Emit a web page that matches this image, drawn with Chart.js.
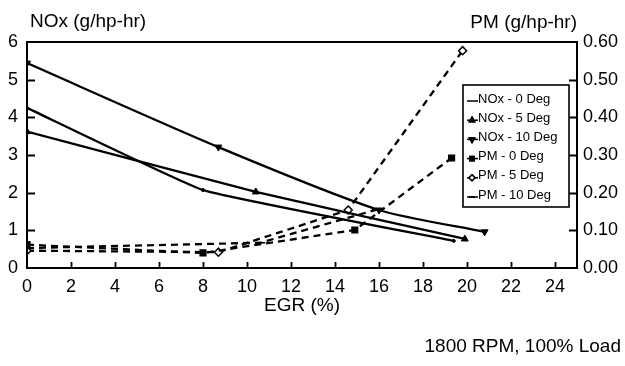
<!DOCTYPE html>
<html>
<head>
<meta charset="utf-8">
<script src="https://cdn.jsdelivr.net/npm/chart.js@4/dist/chart.umd.min.js"></script>
<style>
  html, body { margin: 0; padding: 0; background: #fff; }
  #wrap { width: 625px; height: 366px; }
</style>
</head>
<body>
<div id="wrap"><canvas id="c" width="625" height="366"></canvas></div>
<script>
// EGR sweep at 1800 RPM, 100% load — NOx (left axis) and PM (right axis)
const noxDeg0X  = [0, 8.0, 19.4];
const noxDeg0   = [4.25, 2.07, 0.72];
const noxDeg5X  = [0, 10.4, 19.9];
const noxDeg5   = [3.62, 2.02, 0.77];
const noxDeg10X = [0, 8.7, 16.0, 20.8];
const noxDeg10  = [5.44, 3.21, 1.54, 0.96];

const pmDeg0X  = [0, 8.0, 14.9, 19.3];
const pmDeg0   = [0.062, 0.040, 0.101, 0.292];
const pmDeg5X  = [0, 8.7, 14.6, 19.8];
const pmDeg5   = [0.046, 0.042, 0.154, 0.577];
const pmDeg10X = [0, 10.6, 15.9];
const pmDeg10  = [0.053, 0.067, 0.155];

const seriesLabels = ['NOx - 0 Deg', 'NOx - 5 Deg', 'NOx - 10 Deg', 'PM - 0 Deg', 'PM - 5 Deg', 'PM - 10 Deg'];
const xTickLabels = [0, 2, 4, 6, 8, 10, 12, 14, 16, 18, 20, 22, 24];
const leftTitle = 'NOx (g/hp-hr)';
const rightTitle = 'PM (g/hp-hr)';
const xTitle = 'EGR (%)';
const note = '1800 RPM, 100% Load';

const FONT = '"Liberation Sans", Arial, Helvetica, sans-serif';
const pts = (xs, ys) => xs.map((x, i) => ({ x: x, y: ys[i] }));

function solid(label, data, style, rot, radius, tension) {
  return {
    label, data: data, yAxisID: 'y',
    borderColor: '#000', backgroundColor: '#000', borderWidth: 2.3,
    pointStyle: style, pointRotation: rot, pointRadius: radius,
    pointBackgroundColor: '#000', pointBorderColor: '#000', pointBorderWidth: 1,
    tension: tension, fill: false
  };
}
function dashed(label, data, style, rot, radius, fillCol) {
  return {
    label, data: data, yAxisID: 'y1',
    borderColor: '#000', backgroundColor: fillCol, borderWidth: 2.3,
    borderDash: [7, 5],
    pointStyle: style, pointRotation: rot, pointRadius: radius,
    pointBackgroundColor: fillCol, pointBorderColor: '#000', pointBorderWidth: 1.5,
    tension: 0, fill: false
  };
}

const datasets = [
  solid(seriesLabels[0], pts(noxDeg0X, noxDeg0), 'circle', 0, 1.5, 0.1),
  solid(seriesLabels[1], pts(noxDeg5X, noxDeg5), 'triangle', 0, 4, 0.1),
  solid(seriesLabels[2], pts(noxDeg10X, noxDeg10), 'triangle', 180, 4, 0.25),
  dashed(seriesLabels[3], pts(pmDeg0X, pmDeg0), 'rect', 0, 4, '#000'),
  dashed(seriesLabels[4], pts(pmDeg5X, pmDeg5), 'rectRot', 0, 4, '#fff'),
  dashed(seriesLabels[5], pts(pmDeg10X, pmDeg10), 'line', 0, 5, '#000')
];

// Frame, inward tick marks, legend box and free text
const decor = {
  id: 'decor',
  afterDatasetsDraw(chart) {
    const ctx = chart.ctx;
    const a = chart.chartArea;
    const sx = chart.scales.x, sy = chart.scales.y, sy1 = chart.scales.y1;
    ctx.save();
    ctx.strokeStyle = '#000';
    ctx.lineWidth = 2;
    ctx.setLineDash([]);
    ctx.strokeRect(a.left, a.top, a.right - a.left, a.bottom - a.top);

    ctx.lineWidth = 1.8;
    ctx.beginPath();
    sx.ticks.forEach(t => {
      if (t.value <= 0) return;
      const px = Math.round(sx.getPixelForValue(t.value)) + 0.5;
      ctx.moveTo(px, a.bottom); ctx.lineTo(px, a.bottom - 6);
    });
    sy.ticks.forEach(t => {
      if (t.value <= 0 || t.value >= 6) return;
      const py = Math.round(sy.getPixelForValue(t.value)) + 0.5;
      ctx.moveTo(a.left, py); ctx.lineTo(a.left + 8, py);
    });
    sy1.ticks.forEach(t => {
      if (t.value <= 0.001 || t.value >= 0.599) return;
      const py = Math.round(sy1.getPixelForValue(t.value)) + 0.5;
      ctx.moveTo(a.right, py); ctx.lineTo(a.right - 8, py);
    });
    ctx.stroke();

    // legend
    const lx = 463, ly = 85, lw = 106, lh = 122;
    ctx.fillStyle = '#fff';
    ctx.fillRect(lx, ly, lw, lh);
    ctx.lineWidth = 1.6;
    ctx.strokeRect(lx, ly, lw, lh);
    ctx.font = '13px ' + FONT;
    ctx.textBaseline = 'middle';
    ctx.textAlign = 'left';
    chart.data.datasets.forEach((ds, i) => {
      const y = 99 + i * 19.2;
      ctx.strokeStyle = '#000';
      ctx.lineWidth = 1.5;
      ctx.setLineDash([]);
      ctx.beginPath();
      ctx.moveTo(lx + 4, y + 2); ctx.lineTo(lx + 15, y + 2);
      ctx.stroke();
      if (i > 0) {
        Chart.helpers.drawPoint(ctx, {
          pointStyle: ds.pointStyle, rotation: ds.pointRotation,
          radius: 3, borderWidth: 1
        }, lx + 9, y + 2);
        ctx.fillStyle = ds.pointBackgroundColor;
        ctx.fill();
        ctx.stroke();
      }
      ctx.fillStyle = '#000';
      ctx.fillText(ds.label, lx + 15, y);
    });

    // titles and note
    ctx.fillStyle = '#000';
    ctx.font = '19px ' + FONT;
    ctx.textBaseline = 'alphabetic';
    ctx.textAlign = 'left';
    ctx.fillText(leftTitle, 30, 27);
    ctx.textAlign = 'right';
    ctx.fillText(rightTitle, 577, 28);
    ctx.textAlign = 'center';
    ctx.textBaseline = 'middle';
    ctx.fillText(xTitle, (a.left + a.right) / 2, 306);
    ctx.textAlign = 'right';
    ctx.fillText(note, 621, 347);
    ctx.restore();
  }
};

new Chart(document.getElementById('c'), {
  type: 'line',
  data: { datasets: datasets },
  plugins: [decor],
  options: {
    responsive: false,
    animation: false,
    devicePixelRatio: 1,
    layout: { padding: { top: 42, left: 0, right: 0, bottom: 0 } },
    plugins: { legend: { display: false }, tooltip: { enabled: false } },
    scales: {
      x: {
        type: 'linear', min: 0, max: 25,
        afterFit(s) { s.height = 98; },
        afterBuildTicks(s) { s.ticks = xTickLabels.map(v => ({ value: v })); },
        grid: { display: false, drawTicks: false },
        border: { display: false },
        ticks: { color: '#000', padding: 8, font: { family: FONT, size: 18 }, maxRotation: 0, autoSkip: false }
      },
      y: {
        type: 'linear', position: 'left', min: 0, max: 6,
        afterFit(s) { s.width = 27; },
        grid: { display: false, drawTicks: false },
        border: { display: false },
        ticks: { stepSize: 1, color: '#000', padding: 9, font: { family: FONT, size: 18 } }
      },
      y1: {
        type: 'linear', position: 'right', min: 0, max: 0.6,
        afterFit(s) { s.width = 48; },
        grid: { display: false, drawTicks: false },
        border: { display: false },
        ticks: { stepSize: 0.1, color: '#000', padding: 6, font: { family: FONT, size: 18 },
                 callback: v => Number(v).toFixed(2) }
      }
    }
  }
});
</script>
</body>
</html>
